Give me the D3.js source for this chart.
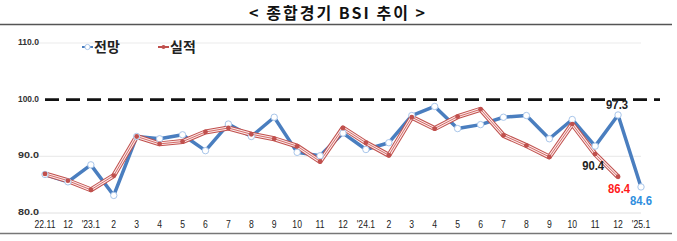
<!DOCTYPE html>
<html>
<head>
<meta charset="utf-8">
<script src="https://cdn.jsdelivr.net/npm/d3@7"></script>
<style>
  body { margin: 0; background: #fff; }
  svg { display: block; font-family: "Liberation Sans", Arial, sans-serif; }
  .kr { font-family: "Noto Sans CJK KR", "Noto Sans", sans-serif; }
</style>
</head>
<body>
<div id="chart"></div>
<script>
// categories (monthly, 2022.11 ~ 2025.1)
const categories = ["22.11", "12", "'23.1", "2", "3", "4", "5", "6", "7", "8", "9", "10", "11", "12",
    "'24.1", "2", "3", "4", "5", "6", "7", "8", "9", "10", "11", "12", "'25.1"];

// 전망 (forecast)
const forecast = [86.8, 85.5, 88.5, 83.1, 93.5, 93.1, 93.8, 91.0, 95.7, 93.5, 96.9, 90.7, 90.1, 94.1,
    91.2, 92.4, 97.2, 98.8, 94.9, 95.6, 96.9, 97.2, 93.1, 96.5, 91.8, 97.3, 84.6];

// 실적 (actual)
const actual = [86.9, 85.7, 84.1, 86.6, 93.5, 92.2, 92.6, 94.3, 95.0, 93.9, 93.1, 91.8, 89.1, 95.0,
    92.4, 90.2, 96.9, 94.9, 97.0, 98.3, 93.7, 91.9, 89.9, 95.7, 90.4, 86.4, null];

const yTicks = [80, 90, 100, 110];

const width = 677, height = 241;
const svg = d3.select("#chart").append("svg")
    .attr("width", width)
    .attr("height", height);

// Title
svg.append("text")
    .attr("class", "kr")
    .attr("x", 337).attr("y", 19)
    .attr("text-anchor", "middle")
    .attr("font-size", 16).attr("font-weight", "bold")
    .attr("fill", "#111")
    .attr("textLength", 176).attr("lengthAdjust", "spacing")
    .text("<  종합경기 BSI  추이  >");

svg.append("line")
    .attr("x1", 0).attr("x2", 672).attr("y1", 24.5).attr("y2", 24.5)
    .attr("stroke", "#555").attr("stroke-width", 1.5);
svg.append("line")
    .attr("x1", 0).attr("x2", 672).attr("y1", 233.5).attr("y2", 233.5)
    .attr("stroke", "#777").attr("stroke-width", 1.5);

const x = d3.scalePoint().domain(d3.range(categories.length)).range([45, 641]);
const y = d3.scaleLinear().domain([80, 110]).range([213, 43]);

// gridlines
svg.append("g").selectAll("line")
    .data(yTicks.filter(d => d !== 100 && d !== 80))
    .enter().append("line")
    .attr("x1", 34).attr("x2", 641)
    .attr("y1", d => y(d)).attr("y2", d => y(d))
    .attr("stroke", "#ececec").attr("stroke-width", 1.2);

// x axis line
svg.append("line")
    .attr("x1", 34).attr("x2", 641)
    .attr("y1", y(80)).attr("y2", y(80))
    .attr("stroke", "#e0e0e0");

// y labels
svg.append("g").selectAll("text")
    .data(yTicks)
    .enter().append("text")
    .attr("x", 39).attr("y", d => y(d) + 2)
    .attr("text-anchor", "end")
    .attr("font-size", 8.5).attr("font-weight", "bold")
    .attr("fill", "#333")
    .attr("textLength", 21).attr("lengthAdjust", "spacingAndGlyphs")
    .text(d => d.toFixed(1));

// x labels
svg.append("g").selectAll("text")
    .data(categories)
    .enter().append("text")
    .attr("x", (d, i) => x(i))
    .attr("y", 228)
    .attr("text-anchor", "middle")
    .attr("font-size", 10.5)
    .attr("fill", "#222")
    .attr("transform", (d, i) => `translate(${x(i)},0) scale(0.82,1) translate(${-x(i)},0)`)
    .text(d => d);

// 100 baseline (dashed)
svg.append("line")
    .attr("x1", 45).attr("x2", 660)
    .attr("y1", y(100)).attr("y2", y(100))
    .attr("stroke", "#111").attr("stroke-width", 2.6)
    .attr("stroke-dasharray", "14,7");

// forecast line
const lineF = d3.line().x((d, i) => x(i)).y(d => y(d));
svg.append("path")
    .datum(forecast)
    .attr("d", lineF)
    .attr("fill", "none")
    .attr("stroke", "#4a7ebf").attr("stroke-width", 3.5)
    .attr("stroke-linejoin", "round");

// actual line (triple stroke)
const lineA = d3.line().defined(d => d !== null).x((d, i) => x(i)).y(d => y(d));
[[5, "#c0504d"], [3, "#fbeaea"], [1, "#d46a67"]].forEach(([w, c]) => {
    svg.append("path")
        .datum(actual)
        .attr("d", lineA)
        .attr("fill", "none")
        .attr("stroke", c).attr("stroke-width", w)
        .attr("stroke-linejoin", "round");
});

// forecast markers
svg.append("g").selectAll("circle")
    .data(forecast)
    .enter().append("circle")
    .attr("cx", (d, i) => x(i)).attr("cy", d => y(d))
    .attr("r", 3.2)
    .attr("fill", "#fff").attr("stroke", "#a9c6ea").attr("stroke-width", 1);

// actual markers
svg.append("g").selectAll("circle")
    .data(actual.map((v, i) => [v, i]).filter(d => d[0] !== null))
    .enter().append("circle")
    .attr("cx", d => x(d[1])).attr("cy", d => y(d[0]))
    .attr("r", 2.4)
    .attr("fill", "#c0504d");

// value labels
const n = categories.length;
const labels = [
    { v: forecast[n - 2], i: n - 2, dx: -1, dy: -6, color: "#222" },
    { v: actual[n - 3], i: n - 3, dx: -2, dy: 16, color: "#222" },
    { v: actual[n - 2], i: n - 2, dx: 1, dy: 16, color: "#ff1a1a" },
    { v: forecast[n - 1], i: n - 1, dx: 0, dy: 18, color: "#2e8ede" }
];
svg.append("g").selectAll("text")
    .data(labels)
    .enter().append("text")
    .attr("x", d => x(d.i) + d.dx)
    .attr("y", d => y(d.v) + d.dy)
    .attr("text-anchor", "middle")
    .attr("font-size", 12.5).attr("font-weight", "bold")
    .attr("fill", d => d.color)
    .attr("textLength", 22).attr("lengthAdjust", "spacingAndGlyphs")
    .text(d => d.v.toFixed(1));

// legend
const legend = [
    { name: "전망", color: "#4a7ebf", x: 82, marker: "open" },
    { name: "실적", color: "#c0504d", x: 158, marker: "dot" }
];
const lg = svg.append("g").selectAll("g").data(legend).enter().append("g");
lg.append("line")
    .attr("x1", d => d.x).attr("x2", d => d.x + 11)
    .attr("y1", 47).attr("y2", 47)
    .attr("stroke", d => d.color).attr("stroke-width", 2);
lg.append("circle")
    .attr("cx", d => d.x + 5.5).attr("cy", 47)
    .attr("r", d => d.marker === "open" ? 2.6 : 2)
    .attr("fill", d => d.marker === "open" ? "#fff" : d.color)
    .attr("stroke", d => d.marker === "open" ? "#a9c6ea" : "none");
lg.append("text")
    .attr("class", "kr")
    .attr("x", d => d.x + 12).attr("y", 52)
    .attr("font-size", 14).attr("font-weight", "bold")
    .attr("fill", "#222")
    .text(d => d.name);
</script>
</body>
</html>
